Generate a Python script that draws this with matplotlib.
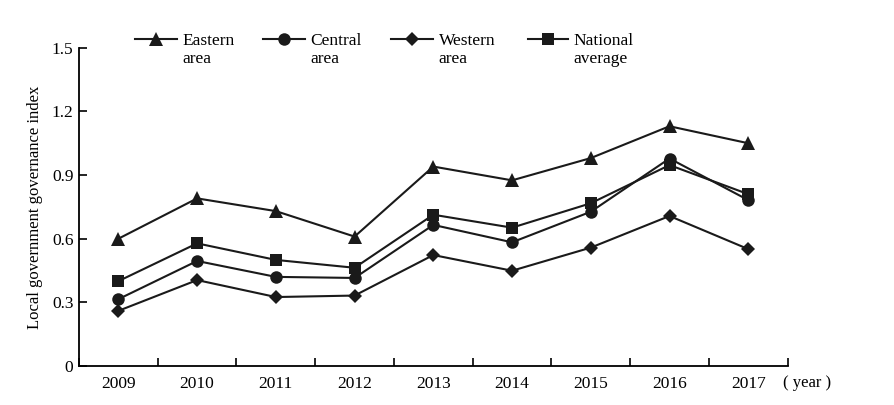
import numpy as np
import matplotlib
matplotlib.use("Agg")
from matplotlib import pyplot as plt

years = ["2009", "2010", "2011", "2012", "2013", "2014", "2015", "2016", "2017"]
eastern = [0.60, 0.79, 0.73, 0.61, 0.94, 0.875, 0.98, 1.13, 1.05]
central = [0.315, 0.495, 0.42, 0.415, 0.665, 0.583, 0.727, 0.978, 0.782]
western = [0.26, 0.405, 0.325, 0.332, 0.523, 0.449, 0.558, 0.707, 0.551]
national = [0.40, 0.578, 0.50, 0.463, 0.713, 0.652, 0.767, 0.947, 0.81]
yticks = [0, 0.3, 0.6, 0.9, 1.2, 1.5]
ytick_labels = ["0", "0.3", "0.6", "0.9", "1.2", "1.5"]
labels = ["Eastern\narea", "Central\narea", "Western\narea", "National\naverage"]
markers = ["^", "o", "D", "s"]
msizes = [10, 9, 7, 8]

plt.rcParams["font.family"] = ["Liberation Serif", "Noto Sans CJK SC"]

fig = plt.figure(figsize=(8.95, 4.05), dpi=100)
ax = fig.add_axes([0.0883, 0.0963, 0.7917, 0.7858])

x = np.arange(len(years))
kw = dict(color="#1a1a1a", lw=1.5, markeredgewidth=0)
for vals, m, ms in zip([eastern, central, western, national], markers, msizes):
    ax.plot(x, vals, marker=m, ms=ms, **kw)

ax.set_xlim(-0.5, len(years) - 0.5)
ax.set_ylim(0, 1.5)
ax.set_yticks(yticks)
ax.set_yticklabels(ytick_labels, fontsize=12.5)
ax.set_xticks(x)
ax.set_xticklabels(years, fontsize=12.5)
ax.set_xticks(np.arange(len(years) + 1) - 0.5, minor=True)
ax.tick_params(axis="x", which="major", length=0, pad=7)
ax.tick_params(axis="x", which="minor", length=6, width=1.2, direction="in")
ax.tick_params(axis="y", length=6, width=1.2, direction="in", pad=4)
for s in ["top", "right"]:
    ax.spines[s].set_visible(False)
for s in ["left", "bottom"]:
    ax.spines[s].set_linewidth(1.3)

ax.set_ylabel("Local government governance index", fontsize=12, labelpad=6)
ax.text(0.993, -0.052, "( year )", transform=ax.transAxes, fontsize=12,
        va="center", ha="left")

# legend drawn by hand so the handle sits on the first text line
leg_x = [0.079, 0.2597, 0.4403, 0.6336]
leg_len = [0.0593, 0.0592, 0.0593, 0.0565]
for lx, ll, lab, m, ms in zip(leg_x, leg_len, labels, markers, msizes):
    ax.plot([lx, lx + ll], [1.027, 1.027], transform=ax.transAxes, clip_on=False,
            color="#1a1a1a", lw=1.5)
    ax.plot([lx + ll / 2], [1.027], transform=ax.transAxes, clip_on=False,
            marker=m, ms=ms, color="#1a1a1a", markeredgewidth=0)
    ax.text(lx + ll + 0.008, 0.951, lab, transform=ax.transAxes, fontsize=12.5,
            va="baseline", ha="left", linespacing=1.2)

fig.savefig("out.png", dpi=100)
